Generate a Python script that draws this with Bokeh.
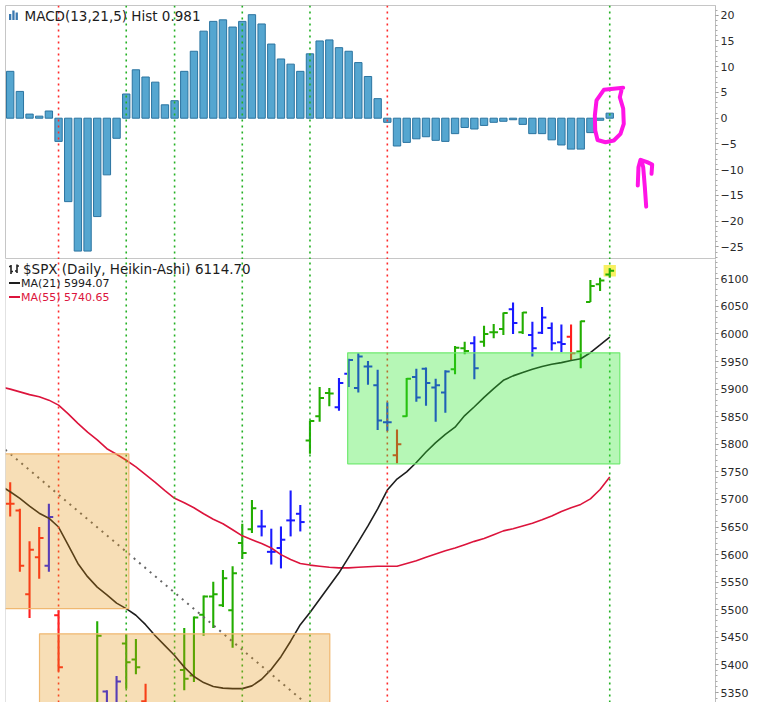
from bokeh.plotting import figure
from bokeh.layouts import column
from bokeh.models import Range1d, SingleIntervalTicker, Label, Span, ColumnDataSource
from bokeh.embed import file_html
from bokeh.resources import INLINE

# ---------------- texts ----------------
macd_title = "MACD(13,21,5) Hist 0.981"
price_title = "$SPX (Daily, Heikin-Ashi) 6114.70"
ma21_label = "MA(21) 5994.07"
ma55_label = "MA(55) 5740.65"

# ---------------- MACD histogram ----------------
macd_hist = [9.1, 5.2, 0.8, 0.4, 1.4, -4.5, -16.2, -25.8, -25.8, -19.1,
             -11.0, -3.9, 4.7, 9.4, 8.0, 7.0, 2.6, 3.4, 9.1, 13.0,
             16.9, 18.8, 19.1, 17.7, 18.8, 20.1, 18.3, 14.4, 11.5, 10.5,
             9.1, 12.5, 15.0, 15.2, 13.7, 13.0, 10.8, 8.1, 3.8, -0.8,
             -5.4, -4.7, -4.0, -3.6, -4.3, -4.5, -3.0, -1.8, -2.1, -1.4,
             -0.8, -0.6, -0.3, -1.2, -3.0, -3.0, -4.2, -5.2, -6.0, -6.0,
             -2.8, -0.4, 0.981]

# ---------------- Heikin-Ashi bars ----------------
ha_open = [5692, 5680, 5528, 5595, 5580, 5490, 5300, 5260, 5125, 5090,
           5352, 5290, 5439, 5410, 5334, 5310, 5290, 5245, 5391, 5381,
           5491, 5524, 5508, 5499, 5621, 5646, 5651, 5605, 5612, 5662,
           5674, 5807, 5851, 5893, 5867, 5928, 5902, 5941, 5907, 5840,
           5780, 5851, 5922, 5937, 5903, 5894, 5936, 5974, 5983, 5986,
           6003, 6009, 6045, 6003, 5998, 6002, 6011, 5985, 5995, 5968,
           6058, 6090, 6108]
ha_high = [5731, 5683, 5624, 5650, 5692, 5499, 5320, 5270, 5270, 5479,
           5354, 5380, 5456, 5447, 5366, 5320, 5300, 5310, 5467, 5488,
           5526, 5551, 5572, 5579, 5656, 5699, 5681, 5647, 5651, 5716,
           5690, 5843, 5904, 5902, 5920, 5955, 5965, 5951, 5935, 5876,
           5827, 5920, 5937, 5939, 5919, 5934, 5978, 5986, 5996, 6015,
           6018, 6039, 6057, 6040, 6022, 6049, 6021, 6017, 6017, 6024,
           6098, 6102, 6119]
ha_low = [5669, 5569, 5485, 5556, 5569, 5388, 5180, 4835, 4910, 4950,
          5230, 5250, 5357, 5383, 5270, 5240, 5100, 5200, 5354, 5369,
          5453, 5467, 5505, 5431, 5592, 5639, 5633, 5582, 5575, 5633,
          5642, 5783, 5841, 5869, 5861, 5904, 5894, 5908, 5826, 5824,
          5765, 5850, 5877, 5870, 5841, 5857, 5927, 5963, 5918, 5977,
          5992, 5998, 6000, 6000, 5959, 6000, 5970, 5967, 5951, 5938,
          6058, 6078, 6102]
ha_close = [5692, 5580, 5609, 5630, 5668, 5396, 5220, 4990, 5060, 5453,
            5290, 5370, 5405, 5396, 5300, 5275, 5200, 5290, 5375, 5486,
            5524, 5528, 5557, 5566, 5603, 5684, 5651, 5605, 5627, 5662,
            5659, 5842, 5884, 5892, 5911, 5953, 5959, 5941, 5843, 5840,
            5800, 5919, 5885, 5911, 5907, 5932, 5975, 5969, 5938, 6000,
            6003, 6038, 6020, 6039, 5974, 6030, 5983, 5982, 5965, 6023,
            6087, 6097, 6114.70]
bar_kind = ["red", "red", "red", "red", "blue", "red", "red", "red", "red", "green",
            "blue", "blue", "green", "green", "red", "red", "red", "green", "green", "green",
            "green", "green", "green", "green", "green", "green", "blue", "blue", "blue", "blue",
            "blue", "green", "green", "green", "blue", "blue", "blue", "blue", "blue", "blue",
            "red", "green", "blue", "blue", "blue", "blue", "green", "green", "blue", "green",
            "green", "green", "blue", "green", "blue", "blue", "blue", "blue", "red", "green",
            "green", "green", "green"]

# ---------------- moving averages (bar -1 .. 62) ----------------
ma_x = list(range(-1, 63))
ma21 = [5725, 5714, 5702, 5688, 5675, 5666, 5650, 5617, 5584, 5560, 5541,
        5527, 5512, 5502, 5490, 5473, 5453, 5435, 5417, 5396, 5379,
        5368, 5361, 5358, 5357, 5357, 5362, 5374, 5392, 5415, 5443,
        5473, 5495, 5519, 5543, 5567, 5595, 5623, 5652, 5683, 5717,
        5737, 5750, 5767, 5786, 5803, 5818, 5831, 5852, 5868, 5885,
        5901, 5916, 5924, 5930, 5936, 5941, 5945, 5948, 5952, 5955,
        5966, 5980, 5994.07]
ma55 = [5904, 5900, 5895, 5890, 5886, 5880, 5871, 5855, 5838, 5822, 5808,
        5792, 5782, 5771, 5759, 5745, 5731, 5716, 5702, 5694, 5685,
        5674, 5664, 5656, 5645, 5634, 5627, 5620, 5612, 5600, 5591,
        5584, 5581, 5579, 5577, 5576, 5576, 5577, 5578, 5579, 5579,
        5579, 5584, 5589, 5595, 5601, 5607, 5612, 5618, 5624, 5629,
        5636, 5643, 5647, 5652, 5657, 5663, 5670, 5678, 5685, 5691,
        5701, 5718, 5740.65]

# ---------------- annotations ----------------
vline_idx = [5, 12, 17, 24, 31, 39, 62]
vline_kind = ["red", "green", "green", "green", "green", "red", "green"]
box_left = [-1.0, 3.03, 34.9]
box_right = [12.27, 33.05, 63.04]
box_top = [5782.7, 5456.4, 5965.8]
box_bottom = [5502.0, 5200.0, 5764.6]
box_kind = ["orange", "orange", "green"]
trend_x = [-0.5, 31.5]
trend_y = [5790.1, 5316.6]
circle_x = [63.39, 61.39, 60.63, 60.46, 60.50, 60.74, 61.56, 62.42, 63.11, 63.45, 63.39, 63.04, 63.21]
circle_y = [5.90, 5.51, 3.44, 0.52, -2.39, -4.23, -4.66, -4.33, -3.03, -1.09, 1.88, 4.08, 5.38]
arrow_shaft_x = [65.77, 65.63, 65.46, 65.28]
arrow_shaft_y = [-17.17, -13.4, -9.51, -8.21]
arrow_head_x = [64.90, 64.97, 65.18, 65.87, 66.39, 66.32]
arrow_head_y = [-13.07, -9.51, -8.08, -8.54, -8.99, -10.8]

# ---------------- styles ----------------
BAR_COL = {"red": "#ff1e1e", "blue": "#1a1aff", "green": "#22ad00"}
VLINE_COL = {"red": "#ff2b2b", "green": "#23b023"}
BOX_FILL = {"orange": "#e4910c", "green": "#2ee82e"}
BOX_ALPHA = {"orange": 0.30, "green": 0.35}
BOX_LINE = {"orange": "#f0b870", "green": "#70ea70"}
FONT = "DejaVu Sans"

# layout mapping (page pixels; page has no margin)
FIG_W = 770
FRAME_L, FRAME_R = 5, 715
MACD_TOP, SPLIT, PRICE_BOTTOM = 5, 259, 702
X0_PX, DX_PX = 9.7, 9.67
M0_PX, M_SCALE = 117.7, 5.15
P_REF, P_REF_PX, P_SCALE = 6100.0, 278.3, 0.5516


def px_x(a):
    return (a - X0_PX) / DX_PX


def px_m(a):
    return (M0_PX - a) / M_SCALE


def px_p(a):
    return P_REF - (a - P_REF_PX) / P_SCALE


x_range = Range1d(px_x(FRAME_L), px_x(FRAME_R))
macd_range = Range1d(px_m(SPLIT), px_m(MACD_TOP))
price_range = Range1d(px_p(PRICE_BOTTOM), px_p(SPLIT))


def make_fig(height, yr, outline, top_border):
    p = figure(width=FIG_W, height=height, x_range=x_range, y_range=yr,
               output_backend="svg", toolbar_location=None,
               x_axis_location=None, y_axis_location="right",
               min_border_left=FRAME_L, min_border_right=FIG_W - FRAME_R,
               min_border_top=top_border, min_border_bottom=0,
               background_fill_color="white", border_fill_color="white",
               outline_line_color=outline)
    p.grid.visible = False
    return p


def style_axis(ax, interval):
    ax.ticker = SingleIntervalTicker(interval=interval, num_minor_ticks=5)
    ax.axis_line_color = "#bdbdbd"
    ax.axis_line_width = 1
    ax.major_tick_line_color = "#8a8a8a"
    ax.major_tick_out = 3
    ax.major_tick_in = 0
    ax.minor_tick_line_color = "#a8a8a8"
    ax.minor_tick_out = 2
    ax.minor_tick_in = 0
    ax.major_label_text_font = FONT
    ax.major_label_text_font_size = "11px"
    ax.major_label_text_color = "#2a2a2a"
    ax.major_label_standoff = 2
    ax.formatter.use_scientific = False


n = len(ha_open)
idx = list(range(n))

# ================= MACD panel =================
pm = make_fig(SPLIT, macd_range, "#c6c6c6", MACD_TOP)
style_axis(pm.yaxis[0], 5)

pm.vbar(x=idx, top=macd_hist, bottom=0, width=0.76,
        fill_color="#55a6d0", line_color="#2b74a0", line_width=1)

for vi, vk in zip(vline_idx, vline_kind):
    pm.segment(x0=[vi], y0=[macd_range.start], x1=[vi], y1=[macd_range.end],
               line_color=VLINE_COL[vk], line_width=1.6, line_dash="2 4")

for xs, ys in ((circle_x, circle_y), (arrow_shaft_x, arrow_shaft_y), (arrow_head_x, arrow_head_y)):
    pm.line(xs, ys, line_color="#ff14e6", line_width=4,
            line_cap="round", line_join="round")

# legend icon + title
pm.quad(left=[px_x(8.5), px_x(11.8), px_x(15.1)],
        right=[px_x(10.8), px_x(14.1), px_x(17.4)],
        top=[px_m(13.5), px_m(10.0), px_m(12.0)],
        bottom=[px_m(19.5), px_m(19.5), px_m(19.5)],
        fill_color="#3a78b0", line_color=None)
pm.add_layout(Label(x=px_x(24), y=px_m(15.5), text=macd_title,
                    text_font=FONT, text_font_size="13.5px", text_color="#1c1c1c",
                    text_baseline="middle", text_align="left"))

# ================= Price panel =================
pp = make_fig(PRICE_BOTTOM - SPLIT, price_range, None, 0)
style_axis(pp.yaxis[0], 50)

# highlight behind last bar
last = n - 1
pp.rect(x=[idx[last]], y=[ha_close[last]], width=1.27, height=21,
        fill_color="#f8f060", line_color=None)

src = ColumnDataSource(dict(
    x=idx, xl=[i - 0.45 for i in idx], xr=[i + 0.45 for i in idx],
    o=ha_open, h=ha_high, l=ha_low, c=ha_close,
    col=[BAR_COL[k] for k in bar_kind]))
pp.segment(x0="x", y0="l", x1="x", y1="h", line_color="col", line_width=2.1, source=src)
pp.segment(x0="xl", y0="o", x1="x", y1="o", line_color="col", line_width=2, source=src)
pp.segment(x0="x", y0="c", x1="xr", y1="c", line_color="col", line_width=2, source=src)

pp.line(ma_x, ma55, line_color="#dc143c", line_width=1.6)
pp.line(ma_x, ma21, line_color="#1e1e1e", line_width=1.6)

pp.line(trend_x, trend_y, line_color="#666666", line_width=2, line_dash="2 5")

for vi, vk in zip(vline_idx, vline_kind):
    pp.segment(x0=[vi], y0=[price_range.start], x1=[vi], y1=[price_range.end],
               line_color=VLINE_COL[vk], line_width=1.6, line_dash="2 4")

pp.quad(left=box_left, right=box_right, top=box_top, bottom=box_bottom,
        fill_color=[BOX_FILL[k] for k in box_kind],
        fill_alpha=[BOX_ALPHA[k] for k in box_kind],
        line_color=[BOX_LINE[k] for k in box_kind], line_width=1.2)

pp.add_layout(Span(location=x_range.start, dimension="height",
                   line_color="#c6c6c6", line_width=1))

# legend: icon, title, MA entries
pp.segment(x0=[px_x(10.5), px_x(8.5), px_x(10.5), px_x(16.5), px_x(14.5), px_x(16.5)],
           y0=[px_p(264.5), px_p(266.0), px_p(271.0), px_p(264.0), px_p(270.5), px_p(265.5)],
           x1=[px_x(10.5), px_x(10.5), px_x(12.5), px_x(16.5), px_x(16.5), px_x(18.5)],
           y1=[px_p(273.5), px_p(266.0), px_p(271.0), px_p(272.5), px_p(270.5), px_p(265.5)],
           line_color="#222222", line_width=1.6)
pp.add_layout(Label(x=px_x(22.5), y=px_p(268.8), text=price_title,
                    text_font=FONT, text_font_size="13.5px", text_color="#1c1c1c",
                    text_baseline="middle", text_align="left"))
pp.segment(x0=[px_x(8.5)], y0=[px_p(282.5)], x1=[px_x(19.5)], y1=[px_p(282.5)],
           line_color="#1e1e1e", line_width=2)
pp.add_layout(Label(x=px_x(20.5), y=px_p(282.8), text=ma21_label,
                    text_font=FONT, text_font_size="11px", text_color="#1c1c1c",
                    text_baseline="middle", text_align="left"))
pp.segment(x0=[px_x(8.5)], y0=[px_p(296.5)], x1=[px_x(19.5)], y1=[px_p(296.5)],
           line_color="#dc143c", line_width=2)
pp.add_layout(Label(x=px_x(20.5), y=px_p(296.8), text=ma55_label,
                    text_font=FONT, text_font_size="11px", text_color="#dc143c",
                    text_baseline="middle", text_align="left"))

layout = column(pm, pp, spacing=0)
open("out.html", "w").write(file_html(layout, INLINE))
